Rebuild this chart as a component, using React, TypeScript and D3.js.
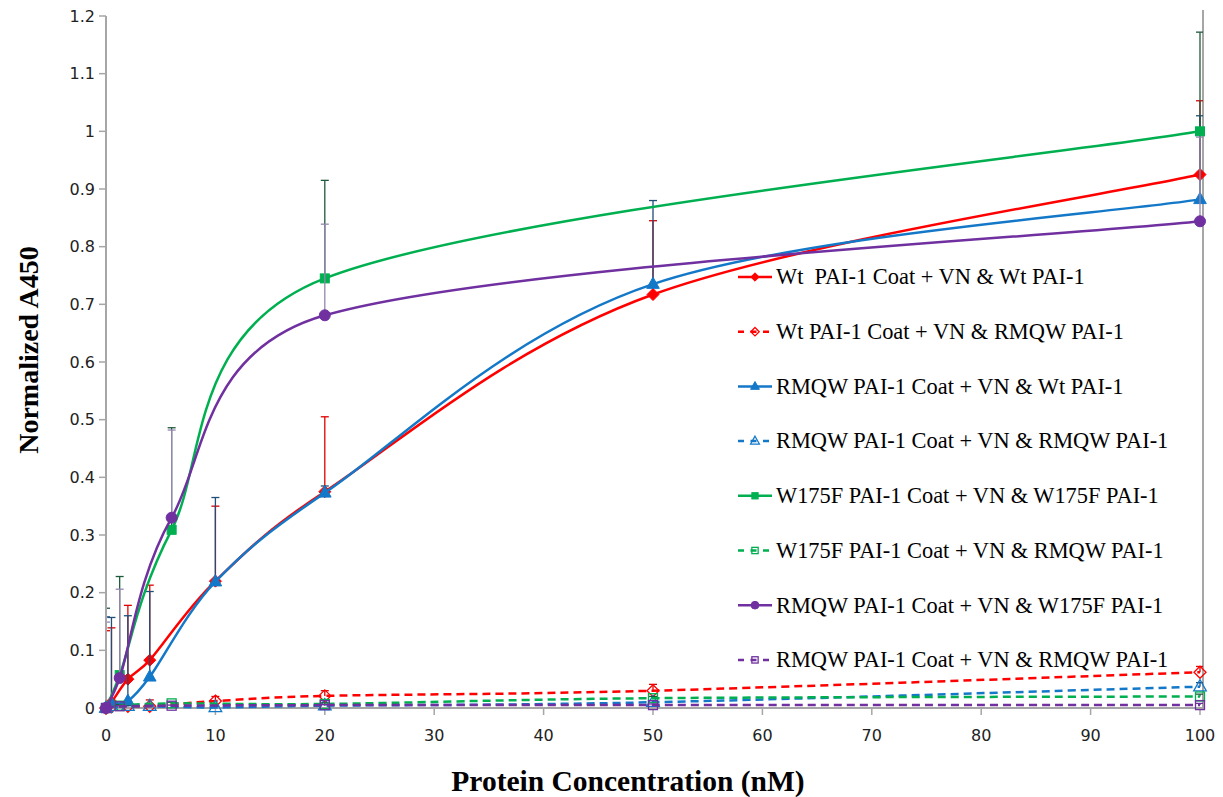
import * as d3 from "d3";
import React from "react";

// x values (nM) used by the two groups of series
const xsA = [0, 0.5, 2, 4, 10, 20, 50, 100];
const xsB = [0, 1.25, 6, 20, 100];
const xsBd = [0, 1.25, 6, 20, 50, 100];

// solid series: mean and top of error bar
const wtWt = [0, 0.01, 0.05, 0.083, 0.22, 0.375, 0.717, 0.925];
const wtWtTop = [0.134, 0.139, 0.178, 0.213, 0.35, 0.505, 0.845, 1.053];
const rmWt = [0, 0.008, 0.012, 0.054, 0.219, 0.373, 0.735, 0.882];
const rmWtTop = [0.158, 0.157, 0.16, 0.202, 0.365, 0.385, 0.88, 1.027];
const wfWf = [0, 0.057, 0.309, 0.745, 1.0];
const wfWfTop = [0.173, 0.228, 0.486, 0.915, 1.172];
const rmWf = [0, 0.052, 0.33, 0.681, 0.844];
const rmWfTop = [0.149, 0.206, 0.482, 0.839, 0.99];

// dashed series (RMQW PAI-1 added)
const wtRm = [0, 0.002, 0.003, 0.003, 0.012, 0.021, 0.03, 0.062];
const wtRmTop = [0.005, 0.006, 0.01, 0.014, 0.02, 0.03, 0.041, 0.072];
const rmRm = [0, 0.003, 0.003, 0.003, 0.001, 0.004, 0.01, 0.037];
const rmRmTop = [0.002, 0.004, 0.004, 0.005, 0.003, 0.006, 0.013, 0.044];
const wfRm = [0, 0.004, 0.008, 0.007, 0.017, 0.02];
const wfRmTop = [0.002, 0.006, 0.01, 0.009, 0.02, 0.024];
const rmRm2 = [0, 0.003, 0.004, 0.005, 0.005, 0.005];
const rmRm2Top = [0.001, 0.004, 0.005, 0.006, 0.007, 0.008];

const xTicks = [0, 10, 20, 30, 40, 50, 60, 70, 80, 90, 100];
const yTicks = [0, 0.1, 0.2, 0.3, 0.4, 0.5, 0.6, 0.7, 0.8, 0.9, 1, 1.1, 1.2];

type Series = {
  name: string;
  xs: number[];
  ys: number[];
  top: number[];
  color: string;
  barColor: string;
  dashed: boolean;
  marker: "diamond" | "triangle" | "square" | "circle";
};

const series: Series[] = [
  { name: "Wt  PAI-1 Coat + VN & Wt PAI-1", xs: xsA, ys: wtWt, top: wtWtTop, color: "#ff0000", barColor: "#e00000", dashed: false, marker: "diamond" },
  { name: "Wt PAI-1 Coat + VN & RMQW PAI-1", xs: xsA, ys: wtRm, top: wtRmTop, color: "#ff0000", barColor: "#e00000", dashed: true, marker: "diamond" },
  { name: "RMQW PAI-1 Coat + VN & Wt PAI-1", xs: xsA, ys: rmWt, top: rmWtTop, color: "#1478c8", barColor: "#1f4e79", dashed: false, marker: "triangle" },
  { name: "RMQW PAI-1 Coat + VN & RMQW PAI-1", xs: xsA, ys: rmRm, top: rmRmTop, color: "#1478c8", barColor: "#1f4e79", dashed: true, marker: "triangle" },
  { name: "W175F PAI-1 Coat + VN & W175F PAI-1", xs: xsB, ys: wfWf, top: wfWfTop, color: "#00b050", barColor: "#1e5a3c", dashed: false, marker: "square" },
  { name: "W175F PAI-1 Coat + VN & RMQW PAI-1", xs: xsBd, ys: wfRm, top: wfRmTop, color: "#00b050", barColor: "#1e5a3c", dashed: true, marker: "square" },
  { name: "RMQW PAI-1 Coat + VN & W175F PAI-1", xs: xsB, ys: rmWf, top: rmWfTop, color: "#7030a0", barColor: "#9487ad", dashed: false, marker: "circle" },
  { name: "RMQW PAI-1 Coat + VN & RMQW PAI-1", xs: xsBd, ys: rmRm2, top: rmRm2Top, color: "#7030a0", barColor: "#7030a0", dashed: true, marker: "circle" },
];

const W = 1223;
const H = 797;
const plot = { left: 106, right: 1200, top: 16, bottom: 708 };

const x = d3.scaleLinear().domain([0, 100]).range([plot.left, plot.right]);
const y = d3.scaleLinear().domain([0, 1.2]).range([plot.bottom, plot.top]);

// Excel-style smoothed line: Bezier with 1/6 tangents, control arm capped at half the segment
function smoothPath(pts: [number, number][]) {
  const p = pts.map(([a, b]) => [x(a), y(b)]);
  const dist = (a: number[], b: number[]) => Math.hypot(b[0] - a[0], b[1] - a[1]);
  const path = d3.path();
  path.moveTo(p[0][0], p[0][1]);
  for (let i = 0; i < p.length - 1; i++) {
    const p0 = p[i - 1] ?? p[i];
    const p1 = p[i];
    const p2 = p[i + 1];
    const p3 = p[i + 2] ?? p[i + 1];
    const d12 = dist(p1, p2);
    const d02 = dist(p0, p2);
    const d13 = dist(p1, p3);
    const f0 = d02 / 6 < d12 / 2 ? 1 / 6 : d12 / (2 * d02);
    const f3 = d13 / 6 < d12 / 2 ? 1 / 6 : d12 / (2 * d13);
    path.bezierCurveTo(
      p1[0] + f0 * (p2[0] - p0[0]), p1[1] + f0 * (p2[1] - p0[1]),
      p2[0] - f3 * (p3[0] - p1[0]), p2[1] - f3 * (p3[1] - p1[1]),
      p2[0], p2[1]
    );
  }
  return path.toString();
}

function Marker({ s, cx, cy, small }: { s: Series; cx: number; cy: number; small?: boolean }) {
  const k = small ? 0.7 : 1;
  const fill = s.dashed ? "none" : s.color;
  const sw = s.dashed ? 1.3 : 1;
  const shape = s.dashed && s.marker === "circle" ? "square" : s.marker;
  if (shape === "diamond") {
    const r = 6 * k;
    return <path d={`M${cx},${cy - r}L${cx + r},${cy}L${cx},${cy + r}L${cx - r},${cy}Z`} fill={fill} stroke={s.color} strokeWidth={sw} />;
  }
  if (shape === "triangle") {
    const r = 7 * k;
    return <path d={`M${cx},${cy - r}L${cx + r * 0.9},${cy + r * 0.6}L${cx - r * 0.9},${cy + r * 0.6}Z`} fill={fill} stroke={s.color} strokeWidth={sw} />;
  }
  if (shape === "square") {
    const r = 4.5 * k;
    return <rect x={cx - r} y={cy - r} width={2 * r} height={2 * r} fill={fill} stroke={s.color} strokeWidth={sw} />;
  }
  return <circle cx={cx} cy={cy} r={5.5 * k} fill={fill} stroke={s.color} strokeWidth={sw} />;
}

const legendX = 738;
const legendY0 = 277;
const legendStep = 54.7;

export default function App() {
  return (
    <svg width={W} height={H} style={{ position: "absolute", left: 0, top: 0, background: "#fff" }}>
      <defs>
        <clipPath id="plotClip">
          <rect x={plot.left + 1} y={0} width={plot.right - plot.left + 2} height={plot.bottom} />
        </clipPath>
      </defs>
      {/* axes */}
      <line x1={plot.left} x2={plot.left} y1={plot.top} y2={plot.bottom} stroke="#a6a6a6" strokeWidth={2} />
      <line x1={plot.left} x2={plot.right + 3} y1={plot.bottom} y2={plot.bottom} stroke="#a6a6a6" strokeWidth={2} />
      <line x1={plot.right + 3} x2={plot.right + 3} y1={plot.top - 6} y2={plot.bottom + 2} stroke="#a6a6a6" strokeWidth={2} />
      {yTicks.map((t) => (
        <g key={`y${t}`}>
          <line x1={plot.left - 7} x2={plot.left} y1={y(t)} y2={y(t)} stroke="#a6a6a6" strokeWidth={1.5} />
          <text x={plot.left - 11} y={y(t)} dy="0.36em" textAnchor="end" fontFamily="DejaVu Sans, Verdana, sans-serif" fontSize={16} fill="#222">
            {t}
          </text>
        </g>
      ))}
      {xTicks.map((t) => (
        <g key={`x${t}`}>
          <line x1={x(t)} x2={x(t)} y1={plot.bottom} y2={plot.bottom + 7} stroke="#a6a6a6" strokeWidth={1.5} />
          <text x={x(t)} y={plot.bottom + 27} dy="0.36em" textAnchor="middle" fontFamily="DejaVu Sans, Verdana, sans-serif" fontSize={16} fill="#222">
            {t}
          </text>
        </g>
      ))}

      {/* series */}
      {series.map((s, i) => {
        const pts = s.xs.map((v, j) => [v, s.ys[j]] as [number, number]);
        return (
          <g key={i}>
            <g clipPath="url(#plotClip)">
              {s.xs.map((v, j) => (
                <g key={j} stroke={s.barColor} strokeWidth={1.3}>
                  <line x1={x(v)} x2={x(v)} y1={y(s.ys[j])} y2={y(s.top[j])} />
                  <line x1={x(v) - 4} x2={x(v) + 4} y1={y(s.top[j])} y2={y(s.top[j])} />
                </g>
              ))}
            </g>
            <path d={smoothPath(pts)} fill="none" stroke={s.color} strokeWidth={2.5} strokeDasharray={s.dashed ? "8,5" : undefined} />
            {s.xs.map((v, j) => (
              <Marker key={j} s={s} cx={x(v)} cy={y(s.ys[j])} />
            ))}
          </g>
        );
      })}

      {/* legend */}
      {series.map((s, i) => {
        const cy = legendY0 + i * legendStep;
        return (
          <g key={`l${i}`}>
            <line x1={legendX} x2={legendX + 34} y1={cy} y2={cy} stroke={s.color} strokeWidth={2.5} strokeDasharray={s.dashed ? "6,6.5" : undefined} />
            <Marker s={s} cx={legendX + 17} cy={cy} small />
            <text x={legendX + 38} y={cy} dy="0.33em" fontFamily="Liberation Serif, Times New Roman, serif" fontSize={22.4} fill="#000" style={{ whiteSpace: "pre" }}>
              {s.name}
            </text>
          </g>
        );
      })}

      {/* axis titles */}
      <text transform={`translate(38,${(plot.top + plot.bottom) / 2 - 12}) rotate(-90)`} textAnchor="middle" fontFamily="Liberation Serif, Times New Roman, serif" fontWeight="bold" fontSize={28} fill="#000">
        Normalized A450
      </text>
      <text x={628} y={791} textAnchor="middle" fontFamily="Liberation Serif, Times New Roman, serif" fontWeight="bold" fontSize={29.5} fill="#000">
        Protein Concentration (nM)
      </text>
    </svg>
  );
}
